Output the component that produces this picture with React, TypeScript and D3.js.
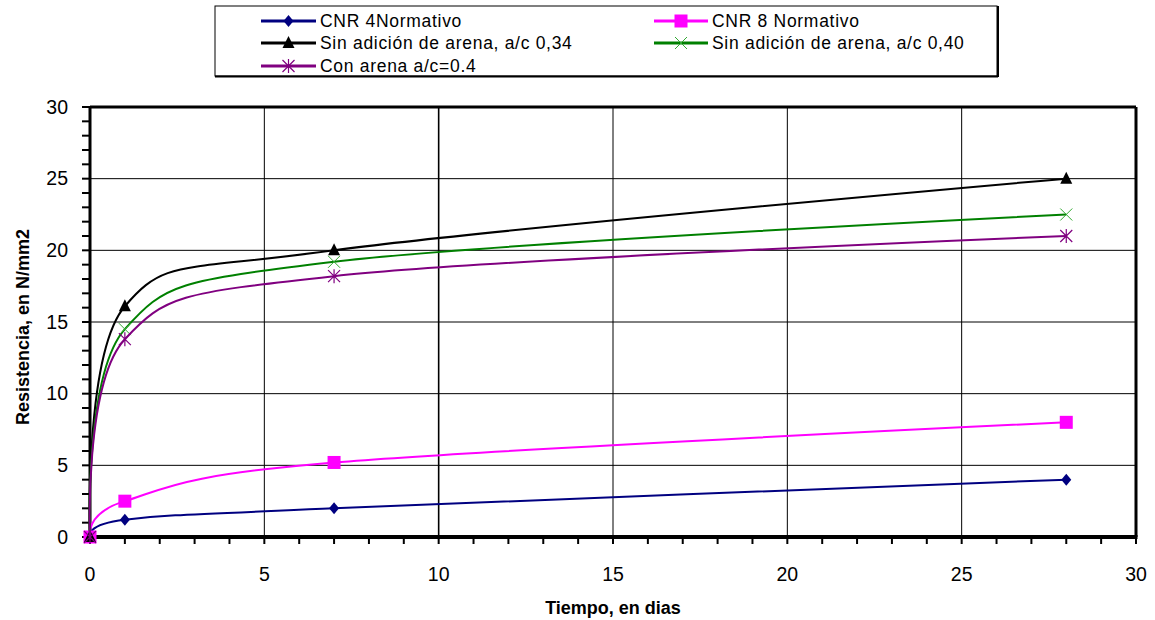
import React from 'react';
import * as d3 from 'd3';

// days of testing
const dias = [0, 1, 7, 28];

// resistance values, N/mm2
const cnr4 = [0, 1.2, 2.0, 4.0];
const cnr8 = [0, 2.5, 5.2, 8.0];
const sinArena034 = [0, 16.1, 20.0, 25.0];
const sinArena040 = [0, 14.5, 19.2, 22.5];
const conArena = [0, 13.8, 18.2, 21.0];

const xTicks = [0, 5, 10, 15, 20, 25, 30];
const yTicks = [0, 5, 10, 15, 20, 25, 30];

const series = [
  { name: 'CNR 4Normativo', values: cnr4, color: '#000080', marker: 'diamond' },
  { name: 'CNR 8 Normativo', values: cnr8, color: '#ff00ff', marker: 'square' },
  { name: 'Sin adición de arena, a/c 0,34', values: sinArena034, color: '#000000', marker: 'triangle' },
  { name: 'Sin adición de arena, a/c 0,40', values: sinArena040, color: '#008000', marker: 'x' },
  { name: 'Con arena a/c=0.4', values: conArena, color: '#800080', marker: 'star' },
];

const width = 1155;
const height = 620;
const marginLeft = 90;
const marginRight = 19;
const marginTop = 107;
const marginBottom = 83;

const font = '"Liberation Sans", Arial, sans-serif';

function Marker({ type, color, x, y }: { type: string; color: string; x: number; y: number }) {
  const t = `translate(${x},${y})`;
  if (type === 'diamond') {
    return <path transform={t} d="M0,-6L5,0L0,6L-5,0Z" fill={color} />;
  }
  if (type === 'square') {
    return <rect transform={t} x={-6.5} y={-6.5} width={13} height={13} fill={color} />;
  }
  if (type === 'triangle') {
    return <path transform={t} d="M0,-7L6,5L-6,5Z" fill={color} />;
  }
  if (type === 'x') {
    return <path transform={t} d="M-6,-6L6,6M-6,6L6,-6" stroke="#33aa33" strokeWidth={1} fill="none" />;
  }
  return <path transform={t} d="M-6,-6L6,6M-6,6L6,-6M0,-7L0,7" stroke={color} strokeWidth={1.2} fill="none" />;
}

export default function App() {
  const x = d3.scaleLinear().domain([0, 30]).range([marginLeft, width - marginRight]);
  const y = d3.scaleLinear().domain([0, 30]).range([height - marginBottom, marginTop]);

  const line = d3.line<number>()
    .x((d, i) => x(dias[i]))
    .y((d) => y(d))
    .curve(d3.curveCardinal.tension(0));

  const minorX = d3.range(0, 31, 1);
  const minorY = d3.range(0, 31, 1);

  const legendRows = [21, 43, 66];
  const legendCols = [{ l0: 261, l1: 316, tx: 320 }, { l0: 654, l1: 708, tx: 712 }];

  return (
    <div style={{ position: 'absolute', left: 0, top: 0 }}>
      <svg width={width} height={height} style={{ display: 'block', background: '#fff' }}>
        {/* grid */}
        {yTicks.filter((v) => v > 0 && v < 30).map((v) => (
          <line key={'gy' + v} x1={x(0)} x2={x(30)} y1={y(v)} y2={y(v)} stroke="#000" strokeWidth={1} />
        ))}
        {xTicks.filter((v) => v > 0 && v < 30).map((v) => (
          <line key={'gx' + v} x1={x(v)} x2={x(v)} y1={y(0)} y2={y(30)} stroke="#000" strokeWidth={v === 10 ? 1.6 : 1} />
        ))}

        {/* minor ticks */}
        {minorX.map((v) => (
          <line key={'tx' + v} x1={x(v)} x2={x(v)} y1={y(0)} y2={y(0) + 7} stroke="#000" strokeWidth={2} />
        ))}
        {minorY.map((v) => (
          <line key={'ty' + v} x1={x(0) - 8} x2={x(0)} y1={y(v)} y2={y(v)} stroke="#000" strokeWidth={2} />
        ))}

        {/* frame */}
        <line x1={x(0)} x2={x(30)} y1={y(30)} y2={y(30)} stroke="#000" strokeWidth={3} />
        <line x1={x(30)} x2={x(30)} y1={y(30)} y2={y(0)} stroke="#000" strokeWidth={3} />
        <line x1={x(0)} x2={x(0)} y1={y(30)} y2={y(0)} stroke="#000" strokeWidth={3} />
        <line x1={x(0) - 2} x2={x(30) + 1.5} y1={y(0)} y2={y(0)} stroke="#000" strokeWidth={4} />

        {/* series */}
        {series.map((s) => (
          <g key={s.name}>
            <path d={line(s.values) ?? ''} fill="none" stroke={s.color} strokeWidth={2} />
            {s.values.map((v, i) => (
              <Marker key={i} type={s.marker} color={s.color} x={x(dias[i])} y={y(v)} />
            ))}
          </g>
        ))}

        {/* tick labels */}
        <g fontFamily={font} fontSize={19.5} fill="#000">
          {xTicks.map((v) => (
            <text key={'lx' + v} x={x(v)} y={y(0) + 44} textAnchor="middle">{v}</text>
          ))}
          {yTicks.map((v) => (
            <text key={'ly' + v} x={x(0) - 22} y={y(v)} dy="0.35em" textAnchor="end">{v}</text>
          ))}
        </g>

        {/* axis titles */}
        <text x={613} y={614} textAnchor="middle" fontFamily={font} fontSize={18} fontWeight="bold">Tiempo, en dias</text>
        <text transform="translate(29,327) rotate(-90)" textAnchor="middle" fontFamily={font} fontSize={18} fontWeight="bold">
          Resistencia, en N/mm2
        </text>

        {/* legend */}
        <rect x={215} y={6} width={782} height={70} fill="#fff" stroke="#000" strokeWidth={1} />
        <line x1={215} x2={998} y1={76.5} y2={76.5} stroke="#000" strokeWidth={2} />
        <line x1={998} x2={998} y1={6} y2={77} stroke="#000" strokeWidth={2} />
        {series.map((s, i) => {
          const col = legendCols[i % 2];
          const ry = legendRows[Math.floor(i / 2)];
          return (
            <g key={'lg' + i}>
              <line x1={col.l0} x2={col.l1} y1={ry} y2={ry} stroke={s.color} strokeWidth={3} />
              <Marker type={s.marker} color={s.color} x={(col.l0 + col.l1) / 2} y={ry} />
              <text x={col.tx} y={ry} dy="0.36em" fontFamily={font} fontSize={17.5} letterSpacing={0.7}>{s.name}</text>
            </g>
          );
        })}
      </svg>
    </div>
  );
}
